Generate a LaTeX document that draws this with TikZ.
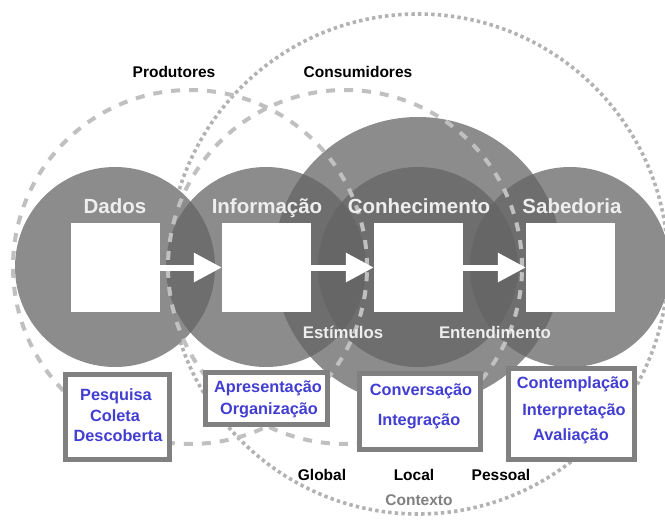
\documentclass[tikz,border=0pt]{standalone}
\usepackage{fontspec}
\setmainfont{Liberation Sans}
\usetikzlibrary{arrows.meta}
\definecolor{circg}{RGB}{100,100,100}
\definecolor{dashg}{RGB}{192,192,192}
\definecolor{dotg}{RGB}{178,178,178}
\definecolor{boxg}{RGB}{128,128,128}
\definecolor{bluet}{RGB}{66,62,210}
\definecolor{lightt}{RGB}{238,238,238}
\definecolor{ctxt}{RGB}{128,128,128}
\begin{document}
\begin{tikzpicture}[x=1pt,y=-1pt,
  graycirc/.style={circle,inner sep=0pt,fill=circg,fill opacity=0.74,draw=none},
  dashcirc/.style={circle,inner sep=0pt,draw=dashg,line width=4pt,dash pattern=on 9pt off 9pt,fill=none},
  dotcirc/.style={circle,inner sep=0pt,draw=dotg,line width=3.6pt,dash pattern=on 3.4pt off 3.2pt,fill=none},
  whiterect/.style={rectangle,inner sep=0pt,fill=white,minimum size=89pt},
  flowarrow/.style={draw=white,line width=6pt,-{Triangle[length=28pt,width=28pt]}},
  biglabel/.style={anchor=base,text=lightt,font=\bfseries\fontsize{20.5}{24}\selectfont,inner sep=0pt},
  midlabel/.style={anchor=base,text=lightt,font=\bfseries\fontsize{16.8}{20}\selectfont,inner sep=0pt},
  blacklabel/.style={anchor=base,text=black,font=\bfseries\fontsize{15.5}{18}\selectfont,inner sep=0pt},
  bluelabel/.style={anchor=base,text=bluet,font=\bfseries\fontsize{16.3}{19}\selectfont,inner sep=0pt},
  infobox/.style={rectangle,inner sep=0pt,draw=boxg,line width=5pt,fill=white}
]
\useasboundingbox (0,0) rectangle (665,522);
\fill[white] (0,0) rectangle (665,522);

% context circle (dotted)
\node[dotcirc,minimum size=500pt] (ctx) at (418,264) {};

% white underlay hiding the dotted line inside the circles
\fill[white] (115,267) circle[radius=100pt] (266,267) circle[radius=100pt]
  (418,261) circle[radius=144pt] (570,267) circle[radius=100pt];

% gray circles
\node[graycirc,minimum size=200pt] (cD) at (115,267) {};
\node[graycirc,minimum size=200pt] (cI) at (266,267) {};
\node[graycirc,minimum size=288pt] (cBig) at (418,261) {};
\node[graycirc,minimum size=200pt] (cC) at (418,267) {};
\node[graycirc,minimum size=200pt] (cS) at (570,267) {};

% dashed circles
\node[dashcirc,minimum size=354pt] (prod) at (190,267) {};
\node[dashcirc,minimum size=354pt] (cons) at (345,267) {};

% white squares
\node[whiterect] (rD) at (115.5,267.5) {};
\node[whiterect] (rI) at (266.5,267.5) {};
\node[whiterect] (rC) at (418.5,267.5) {};
\node[whiterect] (rS) at (570.5,267.5) {};

% arrows
\draw[flowarrow] (rD.east) -- (rI.west);
\draw[flowarrow] (rI.east) -- (rC.west);
\draw[flowarrow] (rC.east) -- (rS.west);

% circle labels
\node[biglabel] (tD) at (115,213.5) {Dados};
\node[biglabel] (tI) at (267,213.5) {Informação};
\node[biglabel] (tC) at (419,213.5) {Conhecimento};
\node[biglabel] (tS) at (572,213.5) {Sabedoria};
\node[midlabel] (tEst) at (343,338) {Estímulos};
\node[midlabel] (tEnt) at (495,338) {Entendimento};

% top labels
\node[blacklabel] (tProd) at (174,77.3) {Produtores};
\node[blacklabel] (tCons) at (358,77.3) {Consumidores};

% boxes
\node[infobox,minimum width=104pt,minimum height=85pt] (b1) at (117.5,417) {};
\node[infobox,minimum width=122pt,minimum height=52pt] (b2) at (266.5,398.5) {};
\node[infobox,minimum width=121pt,minimum height=76pt] (b3) at (420,411.5) {};
\node[infobox,minimum width=126pt,minimum height=91pt] (b4) at (571.5,414) {};

\node[bluelabel] (p1) at (116,400.7) {Pesquisa};
\node[bluelabel] (p2) at (115,421.7) {Coleta};
\node[bluelabel] (p3) at (118,441.7) {Descoberta};
\node[bluelabel] (q1) at (268,392.7) {Apresentação};
\node[bluelabel] (q2) at (269,414.7) {Organização};
\node[bluelabel] (r1) at (421,395.5) {Conversação};
\node[bluelabel] (r2) at (419,425.5) {Integração};
\node[bluelabel] (s1) at (573,388.5) {Contemplação};
\node[bluelabel] (s2) at (574,415.5) {Interpretação};
\node[bluelabel] (s3) at (571,440.5) {Avaliação};

% context labels
\node[blacklabel] (g1) at (322,480) {Global};
\node[blacklabel] (g2) at (414,480) {Local};
\node[blacklabel] (g3) at (501,480) {Pessoal};
\node[blacklabel,text=ctxt] (g4) at (419,505.7) {Contexto};
\end{tikzpicture}
\end{document}
